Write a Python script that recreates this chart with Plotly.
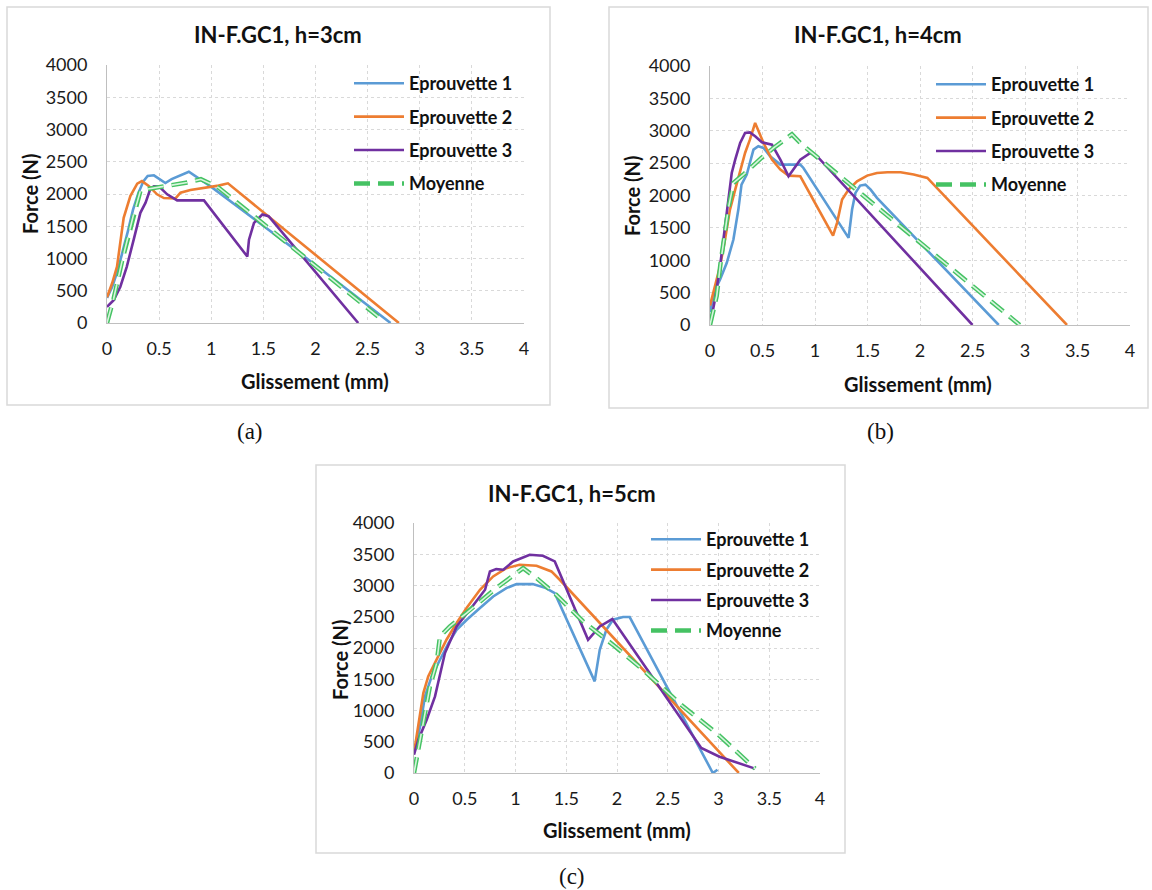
import plotly.graph_objects as go

W, H = 1152, 890

# ---------------- data (Glissement mm, Force N) ----------------
# Panel (a) h=3cm
a_e1_x = [0, 0.05, 0.1, 0.15, 0.2, 0.25, 0.3, 0.35, 0.39, 0.45, 0.5, 0.56, 0.62, 0.7, 0.785, 1.0, 1.5, 2.0, 2.72]
a_e1_y = [390, 560, 800, 1100, 1420, 1760, 2010, 2200, 2280, 2290, 2230, 2170, 2230, 2290, 2345, 2110, 1500, 900, 0]
a_e2_x = [0, 0.05, 0.096, 0.16, 0.224, 0.29, 0.335, 0.4, 0.48, 0.545, 0.657, 0.705, 0.8, 0.96, 1.07, 1.16, 2.8]
a_e2_y = [400, 620, 875, 1630, 1969, 2160, 2200, 2125, 1995, 1937, 1932, 2020, 2062, 2099, 2130, 2165, 0]
a_e3_x = [0, 0.064, 0.128, 0.19, 0.256, 0.32, 0.37, 0.417, 0.45, 0.5, 0.577, 0.673, 0.93, 1.346, 1.362, 1.41, 1.49, 1.55, 2.41]
a_e3_y = [250, 354, 562, 875, 1292, 1708, 1865, 2083, 2120, 2115, 1995, 1901, 1901, 1031, 1292, 1552, 1682, 1656, 0]
a_m_x = [0, 0.064, 0.15, 0.25, 0.32, 0.37, 0.77, 0.9, 1.07, 2.6]
a_m_y = [0, 380, 1000, 1650, 2047, 2073, 2177, 2229, 2099, 100]

# Panel (b) h=4cm
b_e1_x = [0, 0.05, 0.096, 0.16, 0.223, 0.27, 0.3, 0.35, 0.414, 0.46, 0.51, 0.573, 0.67, 0.86, 0.89, 1.32, 1.353, 1.385, 1.43, 1.48, 1.53, 1.59, 2.75]
b_e1_y = [200, 550, 704, 961, 1320, 1783, 2168, 2323, 2708, 2760, 2734, 2605, 2477, 2477, 2425, 1346, 1783, 2040, 2153, 2168, 2091, 1963, 0]
b_e2_x = [0, 0.048, 0.096, 0.143, 0.19, 0.24, 0.287, 0.334, 0.38, 0.43, 0.51, 0.59, 0.67, 0.748, 0.86, 1.172, 1.21, 1.258, 1.32, 1.40, 1.497, 1.59, 1.69, 1.815, 1.94, 2.07, 3.4]
b_e2_y = [300, 601, 910, 1320, 1783, 2091, 2374, 2657, 2862, 3120, 2811, 2554, 2400, 2307, 2297, 1382, 1578, 1937, 2091, 2220, 2307, 2348, 2359, 2359, 2323, 2271, 0]
b_e3_x = [0, 0.048, 0.096, 0.143, 0.175, 0.207, 0.24, 0.287, 0.334, 0.38, 0.43, 0.494, 0.59, 0.67, 0.748, 0.86, 0.955, 1.035, 2.5]
b_e3_y = [0, 396, 910, 1526, 1937, 2348, 2554, 2811, 2965, 2975, 2914, 2821, 2785, 2554, 2297, 2554, 2657, 2580, 0]
b_m_x = [0, 0.064, 0.1, 0.175, 0.223, 0.318, 0.49, 0.605, 0.78, 0.876, 1.05, 1.35, 1.62, 2.95]
b_m_y = [0, 450, 950, 1800, 2194, 2323, 2580, 2734, 2945, 2785, 2554, 2143, 1783, 0]

# Panel (c) h=5cm
c_e1_x = [0, 0.06, 0.108, 0.174, 0.256, 0.34, 0.42, 0.52, 0.65, 0.78, 0.91, 1.01, 1.17, 1.30, 1.387, 1.78, 1.83, 1.895, 1.96, 2.06, 2.125, 2.944, 2.99]
c_e1_y = [320, 746, 1226, 1546, 1812, 2079, 2292, 2452, 2639, 2825, 2958, 3022, 3022, 2958, 2878, 1466, 1972, 2292, 2452, 2495, 2495, 0, 53]
c_e2_x = [0, 0.043, 0.092, 0.14, 0.223, 0.32, 0.42, 0.518, 0.65, 0.78, 0.91, 1.04, 1.207, 1.354, 1.436, 3.2]
c_e2_y = [320, 746, 1279, 1546, 1812, 2132, 2399, 2639, 2932, 3145, 3278, 3331, 3315, 3225, 3092, 0]
c_e3_x = [0, 0.043, 0.125, 0.207, 0.305, 0.42, 0.55, 0.70, 0.748, 0.81, 0.88, 0.977, 1.14, 1.27, 1.387, 1.715, 1.83, 1.954, 2.83, 3.01, 3.36]
c_e3_y = [293, 533, 853, 1226, 1919, 2345, 2612, 2932, 3225, 3262, 3252, 3385, 3491, 3475, 3385, 2132, 2345, 2463, 400, 260, 70]
c_m_x = [0, 0.043, 0.108, 0.157, 0.223, 0.256, 0.354, 0.518, 0.81, 1.075, 1.207, 1.40, 1.666, 1.96, 2.256, 2.65, 2.98, 3.36]
c_m_y = [0, 373, 960, 1386, 1759, 2185, 2345, 2559, 2958, 3278, 3118, 2852, 2425, 2052, 1652, 1066, 640, 70]

series_names = ["Eprouvette 1", "Eprouvette 2", "Eprouvette 3", "Moyenne"]
panel_titles = ["IN-F.GC1, h=3cm", "IN-F.GC1, h=4cm", "IN-F.GC1, h=5cm"]
captions = ["(a)", "(b)", "(c)"]
x_title = "Glissement (mm)"
y_title = "Force (N)"

# ---------------- styling ----------------
COLORS = ["#5B9BD5", "#ED7D31", "#7030A0"]
GREEN_OUT = "#45C263"
GREEN_IN = "#D8F5DE"
DASH = "16px,8px"
FONT = "Lato"

panels = [
    dict(data=[(a_e1_x, a_e1_y), (a_e2_x, a_e2_y), (a_e3_x, a_e3_y), (a_m_x, a_m_y)],
         box=(7, 7, 550, 405), plot=(107, 65, 524, 323),
         title=(278, 35), xt=(315, 381), yt=(30, 194), cap=(250, 431),
         leg=(349, 65), gap=7),
    dict(data=[(b_e1_x, b_e1_y), (b_e2_x, b_e2_y), (b_e3_x, b_e3_y), (b_m_x, b_m_y)],
         box=(609, 7, 1148, 408), plot=(710, 66, 1130, 325),
         title=(878, 35), xt=(918, 384), yt=(632, 196), cap=(880, 431),
         leg=(931, 66), gap=7),
    dict(data=[(c_e1_x, c_e1_y), (c_e2_x, c_e2_y), (c_e3_x, c_e3_y), (c_m_x, c_m_y)],
         box=(316, 465, 845, 853), plot=(414, 523, 820, 773),
         title=(572, 493), xt=(617, 830), yt=(340, 660), cap=(572, 876),
         leg=(646, 521), gap=4),
]

def px(x):
    return x / W

def py(y):
    return 1 - y / H

fig = go.Figure()
shapes = []
annotations = []
layout_axes = {}

for i, p in enumerate(panels):
    n = "" if i == 0 else str(i + 1)
    xa, ya = "x" + n, "y" + n
    leg = "legend" + n
    for k in range(3):
        xs, ys = p["data"][k]
        fig.add_trace(go.Scatter(x=xs, y=ys, mode="lines", name=series_names[k],
                                 line=dict(color=COLORS[k], width=2.6),
                                 xaxis=xa, yaxis=ya, legend=leg, legendgroup=f"g{i}{k}"))
    xs, ys = p["data"][3]
    fig.add_trace(go.Scatter(x=xs, y=ys, mode="lines", name=series_names[3],
                             line=dict(color=GREEN_OUT, width=4.5, dash=DASH),
                             xaxis=xa, yaxis=ya, legend=leg, legendgroup=f"g{i}3"))
    fig.add_trace(go.Scatter(x=xs, y=ys, mode="lines", name=series_names[3],
                             line=dict(color=GREEN_IN, width=1.6, dash=DASH),
                             xaxis=xa, yaxis=ya, showlegend=False, hoverinfo="skip"))

    x0, y0, x1, y1 = p["plot"]
    common = dict(showgrid=True, gridcolor="#D9D9D9", griddash="dot", gridwidth=1,
                  zeroline=False, showline=True, linecolor="#BFBFBF", linewidth=1,
                  ticks="outside", tickcolor="rgba(0,0,0,0)", automargin=False,
                  tickfont=dict(family=FONT, size=18, color="#1a1a1a"))
    layout_axes["xaxis" + n] = dict(common, domain=[px(x0), px(x1)], range=[0, 4],
                                    dtick=0.5, tick0=0, anchor=ya, ticklen=9)
    layout_axes["yaxis" + n] = dict(common, domain=[py(y1), py(y0)], range=[0, 4000],
                                    dtick=500, tick0=0, anchor=xa, ticklen=15)

    bx0, by0, bx1, by1 = p["box"]
    shapes.append(dict(type="rect", xref="paper", yref="paper",
                       x0=px(bx0), x1=px(bx1), y0=py(by1), y1=py(by0),
                       line=dict(color="#D9D9D9", width=1.5), fillcolor="rgba(0,0,0,0)", layer="below"))

    annotations.append(dict(text=panel_titles[i], x=px(p["title"][0]), y=py(p["title"][1]),
                            xref="paper", yref="paper", showarrow=False,
                            xanchor="center", yanchor="middle",
                            font=dict(family=FONT, size=22, color="#111", weight="bold")))
    annotations.append(dict(text=x_title, x=px(p["xt"][0]), y=py(p["xt"][1]),
                            xref="paper", yref="paper", showarrow=False,
                            xanchor="center", yanchor="middle",
                            font=dict(family=FONT, size=20, color="#111", weight="bold")))
    annotations.append(dict(text=y_title, x=px(p["yt"][0]), y=py(p["yt"][1]),
                            xref="paper", yref="paper", showarrow=False, textangle=-90,
                            xanchor="center", yanchor="middle",
                            font=dict(family=FONT, size=20, color="#111", weight="bold")))
    annotations.append(dict(text=captions[i], x=px(p["cap"][0]), y=py(p["cap"][1]),
                            xref="paper", yref="paper", showarrow=False,
                            xanchor="center", yanchor="middle",
                            font=dict(family="Liberation Serif", size=23, color="#111")))

    lx, ly = p["leg"]
    layout_axes[leg] = dict(x=px(lx), y=py(ly), xanchor="left", yanchor="top",
                            bgcolor="rgba(255,255,255,0)", borderwidth=0,
                            tracegroupgap=p["gap"], itemwidth=50,
                            font=dict(family=FONT, size=18, color="#111", weight="bold"))

fig.update_layout(width=W, height=H,
                  margin=dict(l=0, r=0, t=0, b=0, pad=0, autoexpand=False),
                  paper_bgcolor="white", plot_bgcolor="white",
                  shapes=shapes, annotations=annotations, **layout_axes)

# pin the figure to the window's top-left corner so it fills the 1152x890 viewport exactly
post = ("document.body.style.margin='0';document.body.style.overflow='hidden';"
        "var d=document.getElementsByClassName('plotly-graph-div')[0];"
        "d.style.position='fixed';d.style.left='0px';d.style.top='0px';")
fig.write_html("out.html", post_script=post, config={"displayModeBar": False})
